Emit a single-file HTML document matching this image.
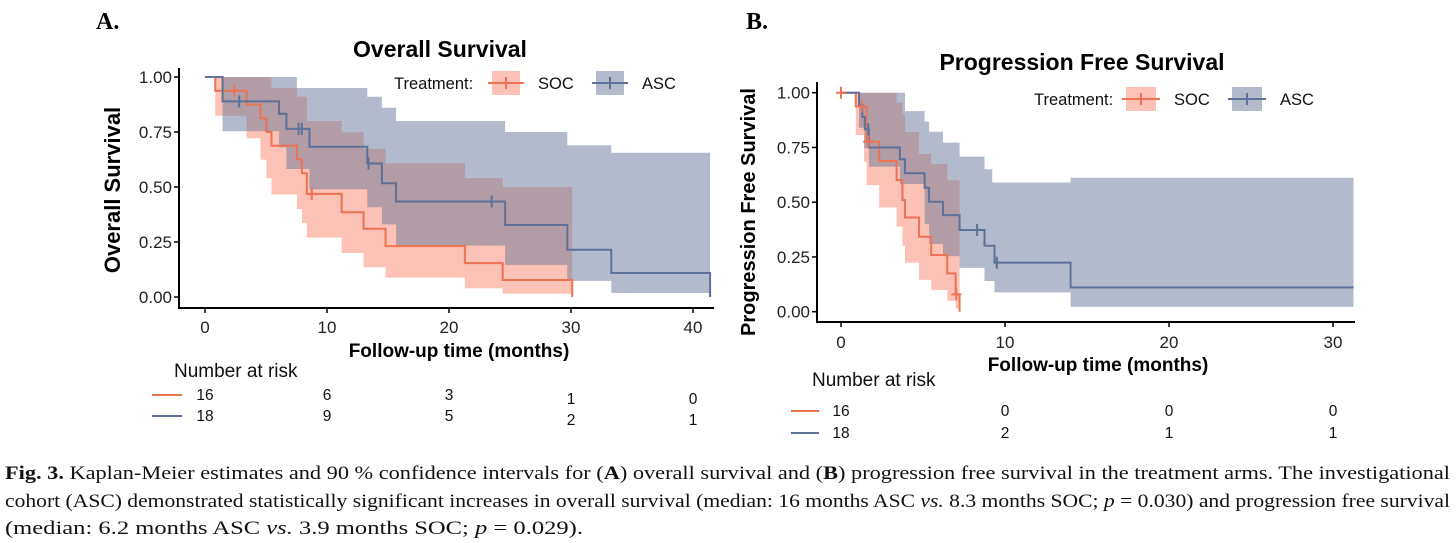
<!DOCTYPE html>
<html><head><meta charset="utf-8"><style>
html,body{margin:0;padding:0;background:#fff;}
svg{display:block;font-family:"Liberation Sans",sans-serif;}
</style></head><body>
<svg id="fig" width="1456" height="543" viewBox="0 0 1456 543" xmlns="http://www.w3.org/2000/svg">
<g id="gA"></g>
<g id="gB"></g>
<g font-family="'Liberation Serif',serif" font-size="19" fill="#111">
<text x="5" y="479" textLength="1445" lengthAdjust="spacingAndGlyphs"><tspan font-weight="bold">Fig. 3.</tspan> Kaplan-Meier estimates and 90 % confidence intervals for (<tspan font-weight="bold">A</tspan>) overall survival and (<tspan font-weight="bold">B</tspan>) progression free survival in the treatment arms. The investigational</text>
<text x="5" y="507" textLength="1445" lengthAdjust="spacingAndGlyphs">cohort (ASC) demonstrated statistically significant increases in overall survival (median: 16 months ASC <tspan font-style="italic">vs.</tspan> 8.3 months SOC; <tspan font-style="italic">p</tspan> = 0.030) and progression free survival</text>
<text x="5" y="534" textLength="578" lengthAdjust="spacingAndGlyphs">(median: 6.2 months ASC <tspan font-style="italic">vs.</tspan> 3.9 months SOC; <tspan font-style="italic">p</tspan> = 0.029).</text>
</g>
</svg>
<script>
// ---------- Panel A data (Overall Survival) ----------
const aAscT = [0, 1.44, 6.07, 6.67, 8.56, 13.3, 14.5, 15.66, 24.6, 29.7, 33.3];
const aAscS = [1, 0.889, 0.833, 0.764, 0.683, 0.607, 0.517, 0.434, 0.327, 0.215, 0.109];
const aAscEnd = 41.4;
const aAscCensorT = [2.8, 7.67, 7.94, 13.4, 23.5];
const aAscUpT = [0, 7.53, 13.3, 14.5, 15.66, 24.6, 29.7, 33.3];
const aAscUpS = [1, 0.95, 0.91, 0.86, 0.80, 0.75, 0.69, 0.656];
const aAscLoT = [0, 1.44, 6.07, 6.67, 8.56, 13.3, 14.5, 15.66, 24.6, 29.7, 33.3];
const aAscLoS = [1, 0.753, 0.68, 0.582, 0.49, 0.408, 0.33, 0.234, 0.146, 0.073, 0.018];

const aSocT = [0, 0.84, 3.41, 4.55, 5.04, 5.45, 7.53, 7.94, 8.35, 11.2, 13.0, 14.8, 21.3, 24.4];
const aSocS = [1, 0.9375, 0.875, 0.8125, 0.75, 0.6875, 0.625, 0.5625, 0.469, 0.385, 0.31, 0.231, 0.154, 0.077];
const aSocEnd = 30.1;
const aSocCensorT = [2.4, 8.75];
const aSocUpT = [0, 5.45, 7.53, 8.35, 11.2, 13.0, 14.8, 21.3, 24.4];
const aSocUpS = [1, 0.95, 0.91, 0.80, 0.748, 0.673, 0.608, 0.541, 0.50];
const aSocLoT = [0, 0.84, 3.41, 4.55, 5.04, 5.45, 7.53, 7.94, 8.35, 11.2, 13.0, 14.8, 21.3, 24.4];
const aSocLoS = [1, 0.824, 0.722, 0.624, 0.54, 0.466, 0.40, 0.337, 0.27, 0.20, 0.136, 0.088, 0.04, 0.015];

const aXTicks = [0, 10, 20, 30, 40];
const aRiskSoc = ["16", "6", "3", "1", "0"];
const aRiskAsc = ["18", "9", "5", "2", "1"];

// ---------- Panel B data (Progression Free Survival) ----------
const bAscT = [0, 1.1, 1.3, 1.45, 1.7, 3.59, 3.9, 5.1, 5.37, 6.22, 7.23, 8.75, 9.36, 14.0];
const bAscS = [1, 0.944, 0.889, 0.833, 0.75, 0.696, 0.632, 0.566, 0.502, 0.441, 0.373, 0.301, 0.224, 0.111];
const bAscEnd = 31.25;
const bAscCensorT = [1.66, 8.3, 9.5];
const bAscUpT = [0, 3.9, 5.1, 5.37, 6.22, 7.23, 8.75, 9.22, 14.0];
const bAscUpS = [1, 0.916, 0.868, 0.822, 0.772, 0.708, 0.65, 0.59, 0.612];
const bAscLoT = [0, 1.1, 1.42, 1.7, 3.59, 5.1, 5.37, 6.22, 7.23, 8.75, 9.36, 14.0];
const bAscLoS = [1, 0.84, 0.746, 0.662, 0.583, 0.40, 0.309, 0.254, 0.20, 0.14, 0.088, 0.023];

const bSocT = [0, 0.9, 1.56, 2.33, 3.39, 3.75, 3.9, 4.76, 5.5, 6.48, 6.99];
const bSocS = [1, 0.9375, 0.776, 0.688, 0.601, 0.51, 0.43, 0.342, 0.259, 0.175, 0.079];
const bSocEnd = 7.23;
const bSocCensorT = [0, 1.26, 1.66, 7.03];
const bSocUpT = [0, 3.39, 3.75, 3.9, 4.76, 5.5, 6.48];
const bSocUpS = [1, 0.954, 0.90, 0.82, 0.72, 0.675, 0.60];
const bSocLoT = [0, 0.9, 1.4, 1.56, 2.33, 3.39, 3.75, 3.9, 4.76, 5.5, 6.48, 6.99];
const bSocLoS = [1, 0.807, 0.685, 0.578, 0.476, 0.388, 0.30, 0.224, 0.145, 0.099, 0.05, 0.015];

const bXTicks = [0, 10, 20, 30];
const bRiskSoc = ["16", "0", "0", "0"];
const bRiskAsc = ["18", "2", "1", "1"];

const yTicks = [0, 0.25, 0.5, 0.75, 1];
const yTickLabels = ["0.00", "0.25", "0.50", "0.75", "1.00"];

const NS = "http://www.w3.org/2000/svg";
const SOC_LINE = "#ec7353", ASC_LINE = "#5e7198";
const SOC_FILL = "rgba(248,120,92,0.45)", ASC_FILL = "rgba(104,118,152,0.5)";

function mk(parent, tag, attrs, text) {
  const e = document.createElementNS(NS, tag);
  for (const k in attrs) e.setAttribute(k, attrs[k]);
  if (text !== undefined) e.textContent = text;
  parent.appendChild(e);
  return e;
}
function stepPath(T, S, end, x, y) {
  let d = "M" + x(T[0]) + "," + y(S[0]);
  for (let i = 1; i < T.length; i++) d += " H" + x(T[i]) + " V" + y(S[i]);
  d += " H" + x(end);
  return d;
}
function bandPath(upT, upS, loT, loS, end, x, y) {
  const pts = [];
  for (let i = 0; i < upT.length; i++) {
    const t1 = i + 1 < upT.length ? upT[i + 1] : end;
    pts.push([x(upT[i]), y(upS[i])], [x(t1), y(upS[i])]);
  }
  const lo = [];
  for (let i = 0; i < loT.length; i++) {
    const t1 = i + 1 < loT.length ? loT[i + 1] : end;
    lo.push([x(loT[i]), y(loS[i])], [x(t1), y(loS[i])]);
  }
  lo.reverse();
  return "M" + pts.concat(lo).map(p => p[0].toFixed(1) + "," + p[1].toFixed(1)).join(" L") + " Z";
}
function stepAt(T, S, t) { let s = S[0]; for (let i = 0; i < T.length; i++) if (T[i] <= t) s = S[i]; return s; }

function panel(g, cfg) {
  const x = cfg.x, y = cfg.y;
  const b1 = mk(g, "path", { d: bandPath(cfg.socUpT, cfg.socUpS, cfg.socLoT, cfg.socLoS, cfg.socEnd, x, y), fill: SOC_FILL });
  
  
  const b2 = mk(g, "path", { d: bandPath(cfg.ascUpT, cfg.ascUpS, cfg.ascLoT, cfg.ascLoS, cfg.ascEnd, x, y), fill: ASC_FILL });
  
  
  const l1 = mk(g, "path", { d: stepPath(cfg.socT, cfg.socS, cfg.socEnd, x, y) + " V" + y(0), fill: "none", stroke: SOC_LINE, "stroke-width": 2 });
  
  
  const l2 = mk(g, "path", { d: stepPath(cfg.ascT, cfg.ascS, cfg.ascEnd, x, y) + (cfg.ascDrop ? " V" + y(0) : ""), fill: "none", stroke: ASC_LINE, "stroke-width": 2 });
  
  
  cfg.socC.forEach(t => {
    const c = mk(g, "path", { d: "M" + x(t) + "," + (y(stepAt(cfg.socT, cfg.socS, t)) - 6) + " v12 M" + (x(t) - 5) + "," + y(stepAt(cfg.socT, cfg.socS, t)) + " h10", stroke: SOC_LINE, "stroke-width": 2 });
    
    
  });
  cfg.ascC.forEach(t => {
    const c = mk(g, "path", { d: "M" + x(t) + "," + (y(stepAt(cfg.ascT, cfg.ascS, t)) - 6) + " v12", stroke: ASC_LINE, "stroke-width": 2 });
    
    
  });
  const ax = mk(g, "path", { d: "M" + cfg.left + "," + cfg.top + " V" + cfg.bottom + " H" + cfg.right, fill: "none", stroke: "#000", "stroke-width": 2 });
  
  
  yTicks.forEach((v, i) => {
    mk(g, "line", { x1: cfg.left - 5, x2: cfg.left, y1: y(v), y2: y(v), stroke: "#000", "stroke-width": 1.5 });
    const tl = mk(g, "text", { x: cfg.left - 7, y: y(v) + 6, "text-anchor": "end", "font-size": 17, fill: "#222" }, yTickLabels[i]);
    
    
  });
  cfg.xTicks.forEach(v => {
    mk(g, "line", { x1: x(v), x2: x(v), y1: cfg.bottom, y2: cfg.bottom + 5, stroke: "#000", "stroke-width": 1.5 });
    const tl = mk(g, "text", { x: x(v), y: cfg.xLabY, "text-anchor": "middle", "font-size": 17, fill: "#222" }, String(v));
    
    
  });
  const tt = mk(g, "text", { x: cfg.titleX, y: cfg.titleY, "text-anchor": "middle", "font-size": 23, "font-weight": "bold" }, cfg.title);
  
  
  const yt = mk(g, "text", { x: 0, y: 0, transform: "translate(" + cfg.yTitleX + "," + cfg.yTitleY + ") rotate(-90)", "text-anchor": "middle", "font-size": cfg.yTitleSize, "font-weight": "bold" }, cfg.yTitle);
  
  
  const xt = mk(g, "text", { x: cfg.xTitleX, y: cfg.xTitleY, "text-anchor": "middle", "font-size": 19, "font-weight": "bold" }, "Follow-up time (months)");
  
  
  const L = cfg.leg;
  const lg = mk(g, "g", {});
  
  
  mk(lg, "text", { x: L.x, y: L.y + 6, "font-size": 16.5, fill: "#111" }, "Treatment:");
  mk(lg, "rect", { x: L.socX + 4, y: L.y - 12, width: L.w - 8, height: 24, fill: SOC_FILL });
  mk(lg, "path", { d: "M" + L.socX + "," + L.y + " h" + L.w + " M" + (L.socX + L.w / 2) + "," + (L.y - 6) + " v12", stroke: SOC_LINE, "stroke-width": 2 });
  mk(lg, "text", { x: L.socX + L.w + 14, y: L.y + 6, "font-size": 16.5, fill: "#111" }, "SOC");
  mk(lg, "rect", { x: L.ascX + 4, y: L.y - 12, width: L.w - 8, height: 24, fill: ASC_FILL });
  mk(lg, "path", { d: "M" + L.ascX + "," + L.y + " h" + L.w + " M" + (L.ascX + L.w / 2) + "," + (L.y - 6) + " v12", stroke: ASC_LINE, "stroke-width": 2 });
  mk(lg, "text", { x: L.ascX + L.w + 14, y: L.y + 6, "font-size": 16.5, fill: "#111" }, "ASC");
  const R = cfg.risk;
  const rg = mk(g, "g", {});
  
  
  mk(rg, "text", { x: R.titleX, y: R.titleY, "font-size": 19, fill: "#111" }, "Number at risk");
  mk(rg, "line", { x1: R.lx0, x2: R.lx1, y1: R.y1 - 5, y2: R.y1 - 5, stroke: SOC_LINE, "stroke-width": 2 });
  mk(rg, "line", { x1: R.lx0, x2: R.lx1, y1: R.y2 - 5, y2: R.y2 - 5, stroke: ASC_LINE, "stroke-width": 2 });
  cfg.xTicks.forEach((v, i) => {
    const dy = (R.shift && v >= 30) ? 4 : 0;
    mk(rg, "text", { x: x(v), y: R.y1 + dy, "text-anchor": "middle", "font-size": 15.5, fill: "#111" }, cfg.riskSoc[i]);
    mk(rg, "text", { x: x(v), y: R.y2 + dy, "text-anchor": "middle", "font-size": 15.5, fill: "#111" }, cfg.riskAsc[i]);
  });
  const pl = mk(g, "text", { x: cfg.letterX, y: 29, "font-family": "'Liberation Serif',serif", "font-size": 24, "font-weight": "bold" }, cfg.letter);
  
  
}

panel(document.getElementById("gA"), {
  x: t => 205 + 12.2 * t, y: s => 297 - 220 * s,
  left: 179, right: 714, top: 68, bottom: 308,
  socT: aSocT, socS: aSocS, socEnd: aSocEnd, socC: aSocCensorT,
  socUpT: aSocUpT, socUpS: aSocUpS, socLoT: aSocLoT, socLoS: aSocLoS,
  ascT: aAscT, ascS: aAscS, ascEnd: aAscEnd, ascC: aAscCensorT, ascDrop: true,
  ascUpT: aAscUpT, ascUpS: aAscUpS, ascLoT: aAscLoT, ascLoS: aAscLoS,
  xTicks: aXTicks, xLabY: 333, riskSoc: aRiskSoc, riskAsc: aRiskAsc,
  title: "Overall Survival", titleX: 440, titleY: 57,
  yTitle: "Overall Survival", yTitleX: 120, yTitleY: 190, yTitleSize: 22,
  xTitleX: 459, xTitleY: 357,
  leg: { x: 394, y: 83, socX: 488, ascX: 592, w: 36 },
  risk: { titleX: 174, titleY: 377, lx0: 152, lx1: 182, y1: 400, y2: 421, shift: true },
  letter: "A.", letterX: 96
});
panel(document.getElementById("gB"), {
  x: t => 841 + 16.4 * t, y: s => 311.7 - 219 * s,
  left: 817, right: 1355, top: 82, bottom: 322,
  socT: bSocT, socS: bSocS, socEnd: bSocEnd, socC: bSocCensorT,
  socUpT: bSocUpT, socUpS: bSocUpS, socLoT: bSocLoT, socLoS: bSocLoS,
  ascT: bAscT, ascS: bAscS, ascEnd: bAscEnd, ascC: bAscCensorT, ascDrop: false,
  ascUpT: bAscUpT, ascUpS: bAscUpS, ascLoT: bAscLoT, ascLoS: bAscLoS,
  xTicks: bXTicks, xLabY: 348, riskSoc: bRiskSoc, riskAsc: bRiskAsc,
  title: "Progression Free Survival", titleX: 1082, titleY: 70,
  yTitle: "Progression Free Survival", yTitleX: 755, yTitleY: 212, yTitleSize: 20,
  xTitleX: 1098, xTitleY: 371,
  leg: { x: 1034, y: 99, socX: 1122, ascX: 1228, w: 38 },
  risk: { titleX: 812, titleY: 386, lx0: 791, lx1: 819, y1: 416, y2: 438, shift: false },
  letter: "B.", letterX: 746
});
</script>
</body></html>
